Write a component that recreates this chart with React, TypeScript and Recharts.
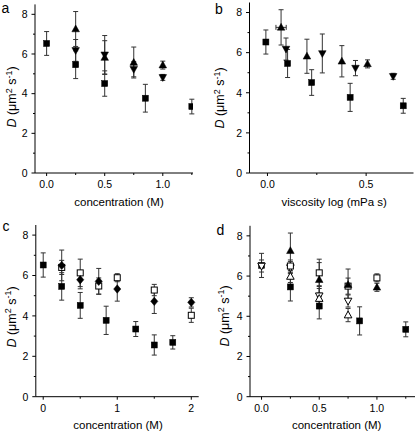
import React from "react";
import { ScatterChart, Scatter, XAxis, YAxis, ErrorBar, Label } from "recharts";

const FONT = "'Liberation Sans', Arial, sans-serif";

// panels a & d: filled squares / triangles vs concentration (M)
const sqConc = [0, 0.25, 0.5, 0.85, 1.25];
const sqD = [6.53, 5.46, 4.51, 3.77, 3.35];
const sqErr = [0.6, 0.7, 0.64, 0.7, 0.37];

const upConc = [0.25, 0.5, 0.75, 1.0];
const upD = [7.26, 5.82, 5.57, 5.44];
const upErr = [0.88, 0.85, 0.78, 0.2];

const downConc = [0.25, 0.5, 0.75, 1.0];
const downD = [6.18, 5.96, 5.23, 4.82];
const downErr = [0.55, 0.97, 0.38, 0.15];

// panel b: same values vs log viscosity
const sqLogVisc = [-0.008, 0.102, 0.224, 0.419, 0.688];
const upLogVisc = [0.069, 0.2, 0.377, 0.507];
const upLogViscErr = [0.026, 0, 0, 0];
const downLogVisc = [0.094, 0.278, 0.446, 0.637];

// panel c
const sqConcC = [0, 0.25, 0.5, 0.85, 1.25, 1.5, 1.75];
const sqDC = [6.52, 5.46, 4.52, 3.78, 3.35, 2.56, 2.69];
const sqErrC = [0.6, 0.68, 0.64, 0.7, 0.37, 0.5, 0.33];
const diaConc = [0.25, 0.5, 0.75, 1.0, 1.5, 2.0];
const diaD = [6.5, 5.79, 5.71, 5.33, 4.72, 4.67];
const diaErr = [0.76, 0.45, 0.64, 0.6, 0.6, 0.23];
const openSqConcC = [0.25, 0.5, 0.75, 1.0, 1.5, 2.0];
const openSqDC = [6.4, 6.13, 5.48, 5.89, 5.28, 4.03];
const openSqErrC = [0.35, 0.68, 0.4, 0.2, 0.28, 0.35];

// panel d: open symbols
const openSqConcD = [0.25, 0.5, 0.75, 1.0];
const openSqDD = [6.5, 6.16, 5.5, 5.91];
const openSqErrD = [0.3, 0.68, 0.4, 0.2];
const openDownConc = [0, 0.25, 0.5, 0.75];
const openDownD = [6.5, 6.42, 5.02, 4.76];
const openDownErr = [0.3, 0.3, 0.5, 0.3];
const openUpConc = [0.25, 0.5, 0.75];
const openUpD = [5.98, 4.88, 4.06];
const openUpErr = [0.3, 0.5, 0.33];

// ticks
const yTicks = [0, 1, 2, 3, 4, 5, 6, 7, 8];
const yMajor = [0, 2, 4, 6, 8];
const yLabels = ["0", "2", "4", "6", "8"];
const concTicks = [0, 0.25, 0.5, 0.75, 1, 1.25];
const concMajor = [0, 0.5, 1];
const concLabels = ["0.0", "0.5", "1.0"];
const viscTicks = [0, 0.25, 0.5];
const viscMajor = [0, 0.5];
const viscLabels = ["0.0", "0.5"];
const concCTicks = [0, 0.5, 1, 1.5, 2];
const concCMajor = [0, 1, 2];
const concCLabels = ["0", "1", "2"];

const pts = (xs: number[], ys: number[], es: number[], ex?: number[]) =>
  xs.map((x, i) => ({ x, y: ys[i], e: es[i], ex: ex ? ex[i] : 0 }));

const mark = (kind: string, filled: boolean) => (p: any) => {
  const { cx, cy } = p;
  const fill = filled ? "#000" : "#fff";
  const sw = filled ? 0.5 : 1;
  if (kind === "square")
    return <rect x={cx - 3} y={cy - 3} width={6} height={6} fill={fill} stroke="#000" strokeWidth={sw} />;
  if (kind === "up")
    return <polygon points={`${cx},${cy - 4} ${cx + 3.8},${cy + 2.8} ${cx - 3.8},${cy + 2.8}`} fill={fill} stroke="#000" strokeWidth={sw} />;
  if (kind === "down")
    return <polygon points={`${cx - 3.8},${cy - 2.8} ${cx + 3.8},${cy - 2.8} ${cx},${cy + 4}`} fill={fill} stroke="#000" strokeWidth={sw} />;
  return <polygon points={`${cx},${cy - 4.2} ${cx + 3.6},${cy} ${cx},${cy + 4.2} ${cx - 3.6},${cy}`} fill={fill} stroke="#000" strokeWidth={sw} />;
};

const xTick = (major: number[], labels: string[]) => (p: any) => {
  const i = major.indexOf(p.payload.value);
  return (
    <g>
      <line x1={p.x} x2={p.x} y1={p.y} y2={p.y + (i >= 0 ? 3 : 2)} stroke="#000" />
      {i >= 0 && (
        <text x={p.x} y={p.y + 15} textAnchor="middle" fontSize={10.5} fontFamily={FONT} fill="#000">
          {labels[i]}
        </text>
      )}
    </g>
  );
};

const yTick = (p: any) => {
  const i = yMajor.indexOf(p.payload.value);
  return (
    <g>
      <line x1={p.x} x2={p.x - (i >= 0 ? 3.5 : 2)} y1={p.y} y2={p.y} stroke="#000" />
      {i >= 0 && (
        <text x={p.x - 7.5} y={p.y + 3.8} textAnchor="end" fontSize={10.5} fontFamily={FONT} fill="#000">
          {yLabels[i]}
        </text>
      )}
    </g>
  );
};

const yTitle = (x: number, y: number) => () => (
  <text x={x} y={y} transform={`rotate(-90 ${x} ${y})`} textAnchor="middle" fontSize={12.5} fontFamily={FONT} fill="#000">
    <tspan fontStyle="italic">D</tspan>
    <tspan> (μm</tspan>
    <tspan dy={-4.5} fontSize={9}>2</tspan>
    <tspan dy={4.5}> s</tspan>
    <tspan dy={-4.5} fontSize={9}>-1</tspan>
    <tspan dy={4.5}>)</tspan>
  </text>
);

const xTitle = (text: string, x: number, y: number) => () => (
  <text x={x} y={y} textAnchor="middle" fontSize={11.5} fontFamily={FONT} fill="#000">
    {text}
  </text>
);

type S = { data: any[]; kind: string; filled: boolean; xerr?: boolean };

function Panel(props: {
  left: number; top: number; w: number; mTop: number; mRight: number; yW: number; xH: number;
  domain: number[]; ticks: number[]; major: number[]; labels: string[];
  title: string; tx: number; ty: number; yx: number; yy: number; series: S[];
}) {
  const p = props;
  return (
    <div style={{ position: "absolute", left: p.left, top: p.top }}>
      <ScatterChart width={p.w} height={216} margin={{ top: p.mTop, right: p.mRight, bottom: 0, left: 0 }}>
        <XAxis
          type="number" dataKey="x" domain={p.domain} ticks={p.ticks} interval={0}
          allowDataOverflow tickLine={false} tickSize={0} tickMargin={0} height={p.xH}
          axisLine={{ stroke: "#000" }} tick={xTick(p.major, p.labels)}
          label={<Label content={xTitle(p.title, p.tx, p.ty)} />}
        />
        <YAxis
          type="number" dataKey="y" domain={[0, 8.5]} ticks={yTicks} interval={0}
          allowDataOverflow tickLine={false} tickSize={0} tickMargin={0} width={p.yW}
          axisLine={{ stroke: "#000" }} tick={yTick}
          label={<Label content={yTitle(p.yx, p.yy)} />}
        />
        {p.series.map((s, i) => (
          <Scatter key={i} data={s.data} shape={mark(s.kind, s.filled)} isAnimationActive={false}>
            <ErrorBar dataKey="e" direction="y" width={2.5} stroke="#333" strokeWidth={1} />
            {s.xerr && <ErrorBar dataKey="ex" direction="x" width={2.5} stroke="#333" strokeWidth={1} />}
          </Scatter>
        ))}
      </ScatterChart>
    </div>
  );
}

export default function App() {
  const sqA = pts(sqConc, sqD, sqErr);
  const upA = pts(upConc, upD, upErr);
  const downA = pts(downConc, downD, downErr);
  const sqB = pts(sqLogVisc, sqD, sqErr);
  const upB = pts(upLogVisc, upD, upErr, upLogViscErr);
  const downB = pts(downLogVisc, downD, downErr);
  return (
    <div style={{ position: "absolute", left: 0, top: 0, width: 415, height: 432, background: "#fff", overflow: "hidden" }}>
      <Panel
        left={0} top={0} w={207} mTop={4.4} mRight={14} yW={35} xH={43}
        domain={[-0.1, 1.26]} ticks={concTicks} major={concMajor} labels={concLabels}
        title="concentration (M)" tx={119} ty={206.3} yx={16} yy={97}
        series={[
          { data: sqA, kind: "square", filled: true },
          { data: downA, kind: "down", filled: true },
          { data: upA, kind: "up", filled: true },
        ]}
      />
      <Panel
        left={207} top={0} w={208} mTop={2.5} mRight={1.5} yW={42.5} xH={43}
        domain={[-0.091, 0.74]} ticks={viscTicks} major={viscMajor} labels={viscLabels}
        title="viscosity log (mPa s)" tx={127.2} ty={206.3} yx={17} yy={98}
        series={[
          { data: sqB, kind: "square", filled: true },
          { data: downB, kind: "down", filled: true },
          { data: upB, kind: "up", filled: true, xerr: true },
        ]}
      />
      <Panel
        left={0} top={216} w={207} mTop={9} mRight={8.3} yW={35.8} xH={35.3}
        domain={[-0.1, 2.1]} ticks={concCTicks} major={concCMajor} labels={concCLabels}
        title="concentration (M)" tx={118} ty={213} yx={15.5} yy={101}
        series={[
          { data: pts(sqConcC, sqDC, sqErrC), kind: "square", filled: true },
          { data: pts(openSqConcC, openSqDC, openSqErrC), kind: "square", filled: false },
          { data: pts(diaConc, diaD, diaErr), kind: "diamond", filled: true },
        ]}
      />
      <Panel
        left={207} top={216} w={208} mTop={9.8} mRight={0} yW={43} xH={35.3}
        domain={[-0.1, 1.33]} ticks={concTicks} major={concMajor} labels={concLabels}
        title="concentration (M)" tx={129.7} ty={213} yx={21.5} yy={100}
        series={[
          { data: sqA, kind: "square", filled: true },
          { data: pts(openDownConc, openDownD, openDownErr), kind: "down", filled: false },
          { data: pts(openUpConc, openUpD, openUpErr), kind: "up", filled: false },
          { data: pts(openSqConcD, openSqDD, openSqErrD), kind: "square", filled: false },
          { data: upA, kind: "up", filled: true },
        ]}
      />
      <svg width={415} height={432} style={{ position: "absolute", left: 0, top: 0, pointerEvents: "none" }}>
        <g fontFamily={FONT} fontSize={14} fill="#000">
          <text x={1.5} y={13}>a</text>
          <text x={215} y={13.5}>b</text>
          <text x={2.5} y={231}>c</text>
          <text x={216.5} y={235}>d</text>
        </g>
      </svg>
    </div>
  );
}
